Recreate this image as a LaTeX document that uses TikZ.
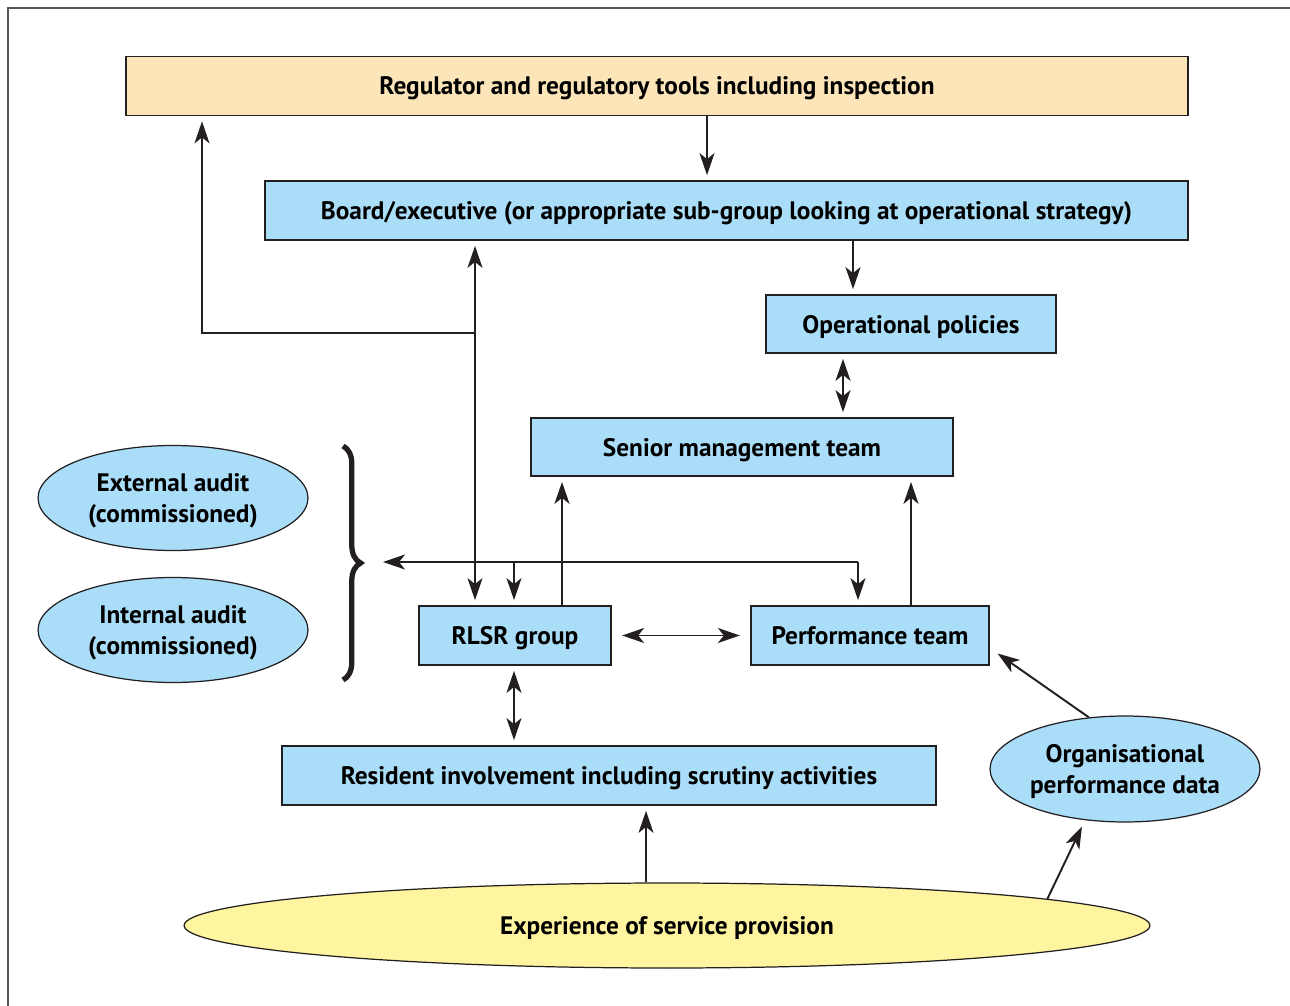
\documentclass[tikz,border=0pt]{standalone}
\usepackage{fontspec}
\setmainfont{PT Sans}
\usetikzlibrary{arrows.meta,positioning,shapes.geometric,calc,decorations.pathreplacing}
\definecolor{boxblue}{RGB}{170,222,248}
\definecolor{regpeach}{RGB}{253,229,186}
\definecolor{expyellow}{RGB}{255,245,160}
\definecolor{edge}{RGB}{35,31,32}
\tikzset{
  blk/.style={draw=edge, fill=boxblue, rectangle, inner sep=0pt, minimum height=1.18cm, text depth=0pt, align=center, font=\fontsize{14.4}{18}\selectfont\bfseries, line width=0.7pt},
  ell/.style={draw=edge, fill=boxblue, ellipse, inner sep=0pt, minimum width=5.4cm, minimum height=2.1cm, text depth=0pt, align=center, font=\fontsize{14.4}{18}\selectfont\bfseries, line width=0.7pt},
  arr/.style={-{Stealth[length=4.4mm, width=3mm, inset=1.2mm]}, line width=1.1pt, draw=edge, shorten >=3pt},
  darr/.style={{Stealth[length=4.4mm, width=3mm, inset=1.2mm]}-{Stealth[length=4.4mm, width=3mm, inset=1.2mm]}, line width=1.1pt, draw=edge, shorten >=3pt, shorten <=3pt},
}

\begin{document}
\begin{tikzpicture}[x=0.02cm, y=-0.02cm]
\useasboundingbox (0,0) rectangle (1290,1006);

% Frame
\draw[line width=1pt, edge!75] (8,1006) -- (8,8) -- (1290,8);

% Boxes
\node[blk, fill=regpeach, minimum width=21.24cm] (reg) at (657,86) {Regulator and regulatory tools including inspection};
\node[blk, minimum width=18.46cm] (board) at (726.5,210.5) {Board/executive (or appropriate sub-group looking at operational strategy)};
\node[blk, minimum width=5.8cm, minimum height=1.16cm] (oper) at (911,324) {Operational policies};
\node[blk, minimum width=8.44cm, minimum height=1.16cm] (senior) at (742,447) {Senior management team};
\node[blk, minimum width=3.84cm] (rlsr) at (515,635.5) {RLSR group};
\node[blk, minimum width=4.76cm] (perf) at (870,635.5) {Performance team};
\node[blk, minimum width=13.08cm] (res) at (609,775.5) {Resident involvement including scrutiny activities};

% Ellipses
\node[ell] (ext) at (173,498) {External audit\\(commissioned)};
\node[ell] (int) at (173,630) {Internal audit\\(commissioned)};
\node[ell, minimum height=2.12cm] (org) at (1125,769) {Organisational\\performance data};
\node[ell, fill=expyellow, minimum width=19.32cm, minimum height=1.7cm] (exp) at (667,925.5) {Experience of service provision};

% Brace
\draw[edge, line width=3pt, decorate, decoration={brace, amplitude=10pt}] (343,446) -- (343,680);

% Junctions
\coordinate (jboard) at (475,333);
\coordinate (jreg) at (202,333);
\coordinate (jmid) at (514,562);
\coordinate (jperf) at (858,562);
\coordinate (auditin) at (383,562);

% Connectors
\draw[arr] (reg.south -| 707,0) -- (board.north -| 707,0);
\draw[arr] (board.south -| 853,0) -- (oper.north -| 853,0);
\draw[darr] (oper.south -| 843,0) -- (senior.north -| 843,0);
\draw[darr] (rlsr.north -| jboard) -- (board.south -| jboard);
\draw[arr] (jboard) -- (jreg) -- (reg.south -| jreg);
\draw[arr, shorten >=0pt] (jperf) -- (auditin);
\draw[arr] (jperf) -- (perf.north -| jperf);
\draw[arr] (jmid) -- (rlsr.north -| jmid);
\draw[arr] (rlsr.north -| 562,0) -- (senior.south -| 562,0);
\draw[arr] (perf.north -| 911,0) -- (senior.south -| 911,0);
\draw[darr, shorten >=6pt, shorten <=6pt] (rlsr.east) -- (perf.west);
\draw[darr] (rlsr.south -| 514,0) -- (res.north -| 514,0);
\draw[arr] (exp.north -| 646,0) -- (res.south -| 646,0);
\draw[arr, shorten >=4pt] (exp.4.3) -- (org.232);
\draw[arr, shorten >=0pt] (org.125) -- ($(perf.east)+(8,18)$);

\end{tikzpicture}
\end{document}
